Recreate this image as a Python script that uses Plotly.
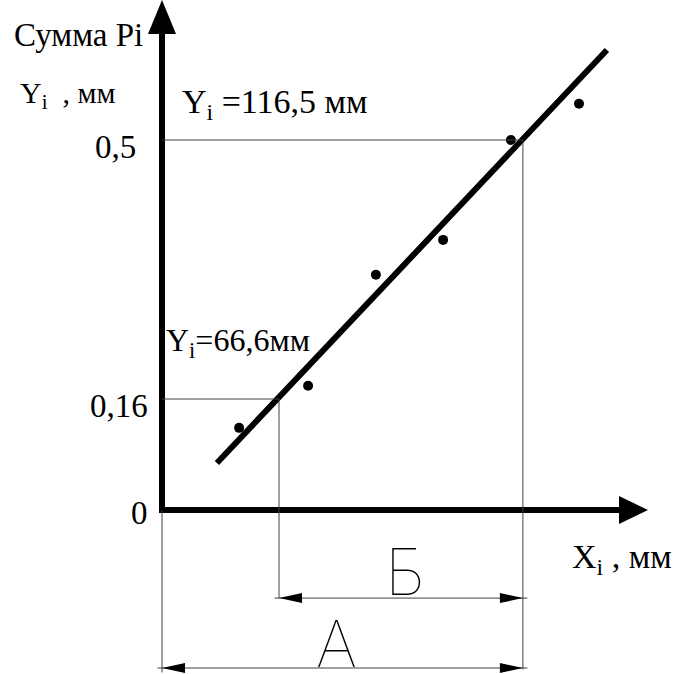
import plotly.graph_objects as go

# measured points (X_i in mm, cumulative Pi)
x_pts = [25.7, 48.7, 71.3, 93.7, 116.3, 139.0]
y_pts = [0.111, 0.168, 0.318, 0.365, 0.500, 0.549]

# fitted straight line, end points
fit_x = [18.3, 148.3]
fit_y = [0.0635, 0.6216]

# y axis ticks
y_ticks = [0, 0.150, 0.5]
y_tick_text = ["0", "0,16", "0,5"]
y_tick_x = [-4, -4, -8]

# X values read at the two probability levels
x_lo, x_hi = 39.0, 120.3

# dimension lines (level of the line)
dim_b_y = -0.119
dim_a_y = -0.2135

x_range = [-54, 172]
y_range = [-0.2216, 0.6892]

serif = "Liberation Serif"
ink = "black"
thin = "#404040"

fig = go.Figure()

fig.add_trace(go.Scatter(x=fit_x, y=fit_y, mode="lines",
                         line=dict(color=ink, width=6), hoverinfo="skip"))
fig.add_trace(go.Scatter(x=x_pts, y=y_pts, mode="markers",
                         marker=dict(color=ink, size=10), cliponaxis=False))

shapes = []


def seg(x0, y0, x1, y1, w=1, c=thin):
    shapes.append(dict(type="line", xref="x", yref="y", x0=x0, y0=y0,
                       x1=x1, y1=y1, line=dict(color=c, width=w)))


def head(x, y, path):
    shapes.append(dict(type="path", xref="x", yref="y", xsizemode="pixel",
                       ysizemode="pixel", xanchor=x, yanchor=y, path=path,
                       fillcolor=ink, line=dict(color=ink, width=0)))


# main axes
seg(0, 0, 0, y_range[1] - 0.03, w=6, c=ink)
seg(-1, 0, 153, 0, w=6, c=ink)
head(0, y_range[1], "M0,0 L-14,-34 L14,-34 Z")
head(162, 0, "M0,0 L-29,14 L-29,-14 Z")

# reading lines
seg(0, y_ticks[2], x_hi, y_ticks[2])
seg(0, y_ticks[1], x_lo, y_ticks[1])
seg(x_hi, y_ticks[2], x_hi, dim_a_y - 0.002)
seg(x_lo, y_ticks[1], x_lo, dim_b_y)
seg(0, 0, 0, dim_a_y - 0.006)

# dimension lines with arrows
for y, xa, xb in [(dim_b_y, x_lo, x_hi), (dim_a_y, 0, x_hi)]:
    seg(xa - 1.5, y, xb + 1.5, y)
    head(xa, y, "M0,0 L23,5 L23,-5 Z")
    head(xb, y, "M0,0 L-23,5 L-23,-5 Z")

ann = []


def label(x, y, text, size, xanchor="left", family=serif, weight=None):
    f = dict(family=family, size=size, color=ink)
    if weight:
        f["weight"] = weight
    ann.append(dict(x=x, y=y, xref="x", yref="y", text=text, showarrow=False,
                    xanchor=xanchor, yanchor="middle", font=f))


for v, t, xx in zip(y_ticks, y_tick_text, y_tick_x):
    label(xx, v - 0.01 + (0.006 if v == 0 else 0), t, 33, xanchor="right")

label(-50, 0.642, "Сумма Pi", 33)
label(-48, 0.561, "Y<sub>i</sub>  , мм", 30)
label(6, 0.548, "Y<sub>i</sub> =116,5 мм", 34)
label(0.5, 0.227, "Y<sub>i</sub>=66,6мм", 32)
label(136, -0.066, "X<sub>i</sub> , мм", 34)
label(81, -0.083, "Б", 64, xanchor="center", family="Inter", weight=100)
label(58, -0.180, "А", 64, xanchor="center", family="Inter", weight=100)

fig.update_layout(
    width=678, height=674,
    margin=dict(l=0, r=0, t=0, b=0),
    paper_bgcolor="white", plot_bgcolor="white",
    showlegend=False,
    xaxis=dict(range=x_range, visible=False, fixedrange=True),
    yaxis=dict(range=y_range, visible=False, fixedrange=True),
    shapes=shapes, annotations=ann,
)

fig.write_html("out.html", config={"displayModeBar": False},
               post_script="document.body.style.margin = '0';")
